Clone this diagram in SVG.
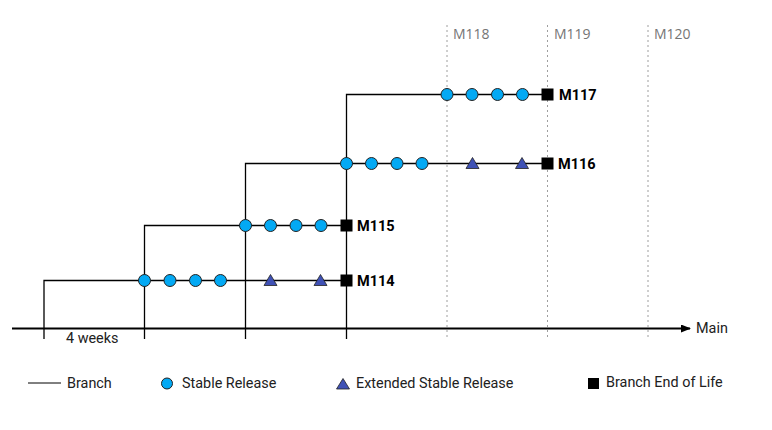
<svg xmlns="http://www.w3.org/2000/svg" width="772" height="430" viewBox="0 0 772 430">
<defs>
<style>
.br{stroke:#000;stroke-width:1.3;fill:none}
.dot{stroke:#9e9e9e;stroke-width:1;stroke-dasharray:2,3;fill:none}
.sr{fill:#03A9F4;stroke:#222;stroke-width:1}
.esr{fill:#3F51B5;stroke:#222;stroke-width:0.8}
.eol{fill:#000}
.lbl{font-family:Roboto,"Liberation Sans",sans-serif;font-size:14.5px;font-weight:bold;fill:#000}
.ms{font-family:"Open Sans",Roboto,sans-serif;font-size:14px;fill:#757575}
.txt{font-family:Roboto,"Liberation Sans",sans-serif;font-size:14.4px;fill:#212121}
</style>
<marker id="arr" markerWidth="10" markerHeight="8" refX="9" refY="4" orient="auto" markerUnits="userSpaceOnUse">
<path d="M0,0 L10,4 L0,8 Z" fill="#000"/>
</marker>
<circle id="c" r="6" class="sr"/>
<path id="t" d="M0,-6 L6.5,5 L-6.5,5 Z" class="esr"/>
<rect id="s" x="-6" y="-6" width="12" height="12" class="eol"/>
</defs>
<rect width="772" height="430" fill="#fff"/>

<g id="milestones">
<line class="dot" x1="447" y1="25" x2="447" y2="340"/>
<line class="dot" x1="547.5" y1="25" x2="547.5" y2="340"/>
<line class="dot" x1="648" y1="25" x2="648" y2="340"/>
<text class="ms" x="453" y="39">M118</text>
<text class="ms" x="554" y="39">M119</text>
<text class="ms" x="654" y="39">M120</text>
</g>

<g id="connectors">
<line x1="12" y1="328.5" x2="690" y2="328.5" stroke="#000" stroke-width="2" marker-end="url(#arr)"/>
<path class="br" d="M44,339 V280.5 H346.5"/>
<path class="br" d="M144.5,339 V225.5 H346.5"/>
<path class="br" d="M245.5,339 V163.5 H547.5"/>
<path class="br" d="M346.5,339 V94.5 H547.5"/>
</g>

<g id="main-label"><text class="txt" x="696" y="333">Main</text></g>
<g id="weeks-label"><text class="txt" x="66" y="343">4 weeks</text></g>

<g id="M114">
<use href="#c" x="144.5" y="280.5"/><use href="#c" x="170" y="280.5"/><use href="#c" x="195.5" y="280.5"/><use href="#c" x="220.5" y="280.5"/>
<use href="#t" x="270.5" y="280.5"/><use href="#t" x="320.5" y="280.5"/>
<use href="#s" x="346.5" y="280.5"/>
<text class="lbl" x="357" y="285.5">M114</text>
</g>
<g id="M115">
<use href="#c" x="245.5" y="225.5"/><use href="#c" x="270.5" y="225.5"/><use href="#c" x="296" y="225.5"/><use href="#c" x="321" y="225.5"/>
<use href="#s" x="346.5" y="225.5"/>
<text class="lbl" x="357" y="230.5">M115</text>
</g>
<g id="M116">
<use href="#c" x="346.5" y="163.5"/><use href="#c" x="371.5" y="163.5"/><use href="#c" x="397" y="163.5"/><use href="#c" x="422" y="163.5"/>
<use href="#t" x="472.5" y="163.5"/><use href="#t" x="522" y="163.5"/>
<use href="#s" x="547.5" y="163.5"/>
<text class="lbl" x="558" y="168.5">M116</text>
</g>
<g id="M117">
<use href="#c" x="447" y="94.5"/><use href="#c" x="472" y="94.5"/><use href="#c" x="497.5" y="94.5"/><use href="#c" x="522.5" y="94.5"/>
<use href="#s" x="547.5" y="94.5"/>
<text class="lbl" x="559" y="99.5">M117</text>
</g>

<g id="legend">
<line x1="28" y1="383" x2="61" y2="383" stroke="#000" stroke-width="1"/>
<text class="txt" x="67" y="388">Branch</text>
<circle cx="167" cy="383.5" r="5.5" class="sr"/>
<text class="txt" x="182" y="388">Stable Release</text>
<path d="M343,378.5 L349.5,389 L336.5,389 Z" class="esr"/>
<text class="txt" x="356" y="388">Extended Stable Release</text>
<rect x="588" y="378" width="11" height="11" class="eol"/>
<text class="txt" x="606" y="387">Branch End of Life</text>
</g>
</svg>
